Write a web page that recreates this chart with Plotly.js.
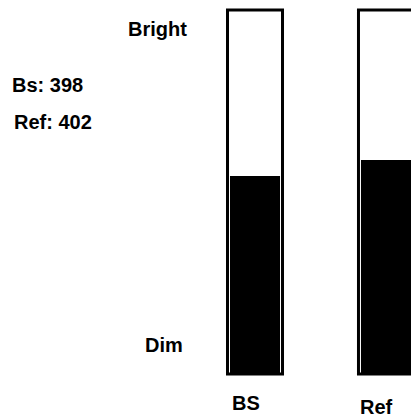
<!DOCTYPE html>
<html>
<head>
<meta charset="utf-8">
<script src="https://cdn.plot.ly/plotly-3.0.1.min.js"></script>
<style>
html,body{margin:0;padding:0;background:#fff;}
#chart{width:411px;height:417px;}
</style>
</head>
<body>
<div id="chart"></div>
<script>
// ---- data ----
var categories = ["BS", "Ref"];
var readoutLabels = ["Bs", "Ref"];
var values = [398, 402];
var scaleMin = 348.5;
var scaleMax = 439.5;
var scaleLabels = ["Bright", "Dim"];

var xs = categories.map(function(c, i){ return i; });
var fontSpec = {family: "Liberation Sans, Arial, sans-serif", size: 20, color: "#000", weight: "bold"};

var frameTrace = {
  type: "bar",
  x: xs,
  y: categories.map(function(){ return scaleMax - scaleMin; }),
  base: categories.map(function(){ return scaleMin; }),
  width: 0.42,
  marker: {color: "#ffffff", line: {color: "#000000", width: 3}},
  hoverinfo: "skip",
  showlegend: false
};

var fillTrace = {
  type: "bar",
  x: xs,
  y: values.map(function(v){ return v - scaleMin; }),
  base: categories.map(function(){ return scaleMin; }),
  width: 0.382,
  marker: {color: "#000000", line: {color: "#000000", width: 0}},
  hoverinfo: "skip",
  showlegend: false
};

var H = 417, W = 411;
function py(px){ return 1 - px / H; }
function pxx(px){ return px / W; }

var annotations = [
  {text: scaleLabels[0], xref: "paper", yref: "paper", x: pxx(189), y: py(29), xanchor: "right", yanchor: "middle", showarrow: false, font: fontSpec},
  {text: scaleLabels[1], xref: "paper", yref: "paper", x: pxx(185), y: py(345), xanchor: "right", yanchor: "middle", showarrow: false, font: fontSpec}
];
var readoutY = [85, 122];
var readoutX = [10, 12];
readoutLabels.forEach(function(lbl, i){
  annotations.push({text: lbl + ": " + values[i], xref: "paper", yref: "paper", x: pxx(readoutX[i]), y: py(readoutY[i]), xanchor: "left", yanchor: "middle", showarrow: false, font: fontSpec});
});
var catLabelY = [403, 407];
categories.forEach(function(c, i){
  annotations.push({text: c, xref: "x", yref: "paper", x: xs[i], xshift: -9, y: py(catLabelY[i]), xanchor: "center", yanchor: "middle", showarrow: false, font: fontSpec});
});

var layout = {
  width: W, height: H,
  margin: {l: 0, r: 0, t: 0, b: 0, pad: 0},
  paper_bgcolor: "#ffffff",
  plot_bgcolor: "#ffffff",
  barmode: "overlay",
  showlegend: false,
  xaxis: {range: [-1.947, 1.191], showgrid: false, zeroline: false, showticklabels: false, showline: false, ticks: "", fixedrange: true},
  yaxis: {range: [337.75, 442], showgrid: false, zeroline: false, showticklabels: false, showline: false, ticks: "", fixedrange: true},
  annotations: annotations
};

Plotly.newPlot("chart", [frameTrace, fillTrace], layout, {displayModeBar: false, staticPlot: true});
</script>
</body>
</html>
